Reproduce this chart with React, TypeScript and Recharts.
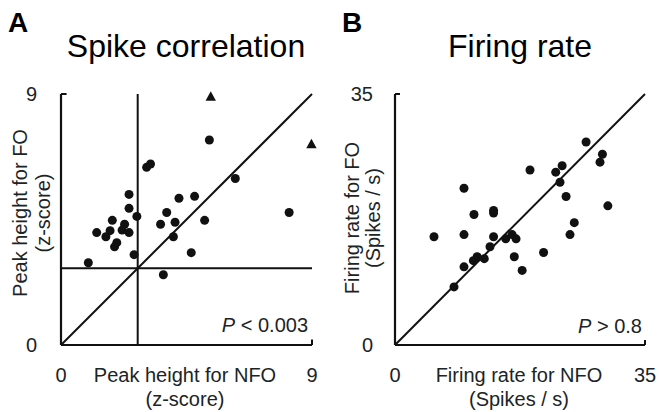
import React from "react";
import {
  ScatterChart,
  Scatter,
  XAxis,
  YAxis,
  ReferenceLine,
  Label,
} from "recharts";

// Panel A: spike correlation (z-score)
const spikeCircles = [
  { x: 5.32, y: 7.35 }, { x: 3.07, y: 6.37 }, { x: 3.21, y: 6.49 }, { x: 6.25, y: 5.97 },
  { x: 2.44, y: 5.4 }, { x: 4.23, y: 5.26 }, { x: 4.79, y: 5.33 }, { x: 2.44, y: 4.9 },
  { x: 8.18, y: 4.75 }, { x: 3.79, y: 4.75 }, { x: 2.72, y: 4.61 }, { x: 1.84, y: 4.47 },
  { x: 5.15, y: 4.47 }, { x: 3.57, y: 4.33 }, { x: 4.09, y: 4.4 }, { x: 2.28, y: 4.33 },
  { x: 1.28, y: 4.03 }, { x: 1.76, y: 4.1 }, { x: 2.19, y: 4.12 }, { x: 2.44, y: 4.03 },
  { x: 1.61, y: 3.88 }, { x: 4.03, y: 3.88 }, { x: 2.0, y: 3.67 }, { x: 1.92, y: 3.52 },
  { x: 4.67, y: 3.31 }, { x: 2.62, y: 3.24 }, { x: 0.98, y: 2.95 }, { x: 3.67, y: 2.52 },
];
const spikeTriangles = [
  { x: 5.37, y: 8.9 },
  { x: 8.98, y: 7.2 },
];
const spikeTicks = [0, 9];
const spikeThreshold = 2.75;

// Panel B: firing rate (spikes / s)
const rateCircles = [
  { x: 26.75, y: 28.3 }, { x: 29.04, y: 26.6 }, { x: 28.7, y: 25.5 }, { x: 23.4, y: 25.0 },
  { x: 22.5, y: 24.1 }, { x: 18.9, y: 24.4 }, { x: 23.1, y: 22.7 }, { x: 9.66, y: 21.85 },
  { x: 23.95, y: 20.7 }, { x: 29.8, y: 19.4 }, { x: 13.8, y: 18.75 }, { x: 13.8, y: 18.4 },
  { x: 11.06, y: 18.2 }, { x: 25.1, y: 17.06 }, { x: 5.46, y: 15.1 }, { x: 9.66, y: 15.4 },
  { x: 13.8, y: 15.1 }, { x: 15.5, y: 14.8 }, { x: 16.4, y: 15.4 }, { x: 16.95, y: 14.8 },
  { x: 24.5, y: 15.4 }, { x: 13.3, y: 13.7 }, { x: 16.7, y: 12.3 }, { x: 20.8, y: 12.9 },
  { x: 11.5, y: 12.3 }, { x: 12.5, y: 12.04 }, { x: 10.97, y: 11.76 }, { x: 9.66, y: 10.9 },
  { x: 17.8, y: 10.4 }, { x: 8.26, y: 8.1 },
];
const rateTicks = [0, 35];

const INK = "#111";
const TEXT = "#1c2426";
const FONT = "'Liberation Sans', Arial, Helvetica, sans-serif";

const Dot = (p: any) => <circle cx={p.cx} cy={p.cy} r={4.5} fill={INK} />;
const Tri = (p: any) => (
  <polygon
    points={`${p.cx},${p.cy - 5.5} ${p.cx - 5.2},${p.cy + 4} ${p.cx + 5.2},${p.cy + 4}`}
    fill={INK}
  />
);

const XLab = (lines: string[], cx: number) => (props: any) => {
  const vb = props.viewBox || {};
  const x = cx;
  return (
    <g>
      <text x={x} y={vb.y + 37} textAnchor="middle" fontSize={20} fill={TEXT} fontFamily={FONT}>
        {lines[0]}
      </text>
      <text x={x} y={vb.y + 61} textAnchor="middle" fontSize={20} fill={TEXT} fontFamily={FONT}>
        {lines[1]}
      </text>
    </g>
  );
};

const YLab = (lines: string[], x1: number, x2: number, cy: number) => () => (
  <g>
    <text
      x={x1}
      y={cy}
      dy="0.35em"
      textAnchor="middle"
      fontSize={20}
      fill={TEXT}
      fontFamily={FONT}
      transform={`rotate(-90, ${x1}, ${cy})`}
    >
      {lines[0]}
    </text>
    <text
      x={x2}
      y={cy}
      dy="0.35em"
      textAnchor="middle"
      fontSize={20}
      fill={TEXT}
      fontFamily={FONT}
      transform={`rotate(-90, ${x2}, ${cy})`}
    >
      {lines[1]}
    </text>
  </g>
);

const tickStyle = { fontSize: 20, fill: TEXT, fontFamily: FONT };
const axisLine = { stroke: INK, strokeWidth: 2.2 };

export default function App() {
  return (
    <div
      style={{
        position: "absolute",
        left: 0,
        top: 0,
        width: 659,
        height: 412,
        background: "#fff",
        overflow: "hidden",
      }}
    >
      <div style={{ position: "absolute", left: 0, top: 0 }}>
        <ScatterChart width={330} height={412} margin={{ top: 94, right: 18, bottom: 37, left: 21 }}>
          <XAxis
            type="number"
            dataKey="x"
            domain={[0, 9]}
            ticks={spikeTicks}
            tickLine={false}
            tickSize={0}
            tickMargin={23}
            height={30}
            axisLine={axisLine}
            tick={tickStyle}
            interval={0}
          >
            <Label content={XLab(["Peak height for NFO", "(z-score)"], 185)} />
          </XAxis>
          <YAxis
            type="number"
            dataKey="y"
            domain={[0, 9]}
            ticks={spikeTicks}
            tickLine={false}
            tickSize={0}
            tickMargin={24}
            width={40}
            axisLine={axisLine}
            tick={tickStyle}
            interval={0}
          >
            <Label content={YLab(["Peak height for FO", "(z-score)"], 20, 43, 213)} />
          </YAxis>
          <ReferenceLine x={spikeThreshold} stroke={INK} strokeWidth={2} />
          <ReferenceLine y={spikeThreshold} stroke={INK} strokeWidth={2} />
          <ReferenceLine segment={[{ x: 0, y: 0 }, { x: 9, y: 9 }]} stroke={INK} strokeWidth={2} />
          <ReferenceLine segment={[{ x: 0, y: 9 }, { x: 0.2, y: 9 }]} stroke={INK} strokeWidth={2} />
          <ReferenceLine segment={[{ x: 9, y: 0 }, { x: 9, y: 0.2 }]} stroke={INK} strokeWidth={2} />
          <Scatter data={spikeCircles} shape={Dot} isAnimationActive={false} />
          <Scatter data={spikeTriangles} shape={Tri} isAnimationActive={false} />
        </ScatterChart>
      </div>
      <div style={{ position: "absolute", left: 330, top: 0 }}>
        <ScatterChart width={329} height={412} margin={{ top: 94, right: 14, bottom: 37, left: 25 }}>
          <XAxis
            type="number"
            dataKey="x"
            domain={[0, 35]}
            ticks={rateTicks}
            tickLine={false}
            tickSize={0}
            tickMargin={23}
            height={30}
            axisLine={axisLine}
            tick={tickStyle}
            interval={0}
          >
            <Label content={XLab(["Firing rate for NFO", "(Spikes / s)"], 189)} />
          </XAxis>
          <YAxis
            type="number"
            dataKey="y"
            domain={[0, 35]}
            ticks={rateTicks}
            tickLine={false}
            tickSize={0}
            tickMargin={22}
            width={40}
            axisLine={axisLine}
            tick={tickStyle}
            interval={0}
          >
            <Label content={YLab(["Firing rate for FO", "(Spikes / s)"], 22, 43, 218)} />
          </YAxis>
          <ReferenceLine segment={[{ x: 0, y: 0 }, { x: 35, y: 35 }]} stroke={INK} strokeWidth={2} />
          <ReferenceLine segment={[{ x: 0, y: 35 }, { x: 0.7, y: 35 }]} stroke={INK} strokeWidth={2} />
          <ReferenceLine segment={[{ x: 35, y: 0 }, { x: 35, y: 0.7 }]} stroke={INK} strokeWidth={2} />
          <Scatter data={rateCircles} shape={Dot} isAnimationActive={false} />
        </ScatterChart>
      </div>
      <svg
        width={659}
        height={412}
        style={{ position: "absolute", left: 0, top: 0, pointerEvents: "none" }}
      >
        <g fontFamily={FONT} fill={TEXT}>
          <text x={8} y={32} fontSize={28} fontWeight="bold" fill="#000">A</text>
          <text x={342} y={32} fontSize={28} fontWeight="bold" fill="#000">B</text>
          <text x={186} y={57} fontSize={32} textAnchor="middle" fill="#000">Spike correlation</text>
          <text x={520} y={57} fontSize={32} textAnchor="middle" fill="#000">Firing rate</text>
          <text x={308} y={332} fontSize={20} textAnchor="end">
            <tspan fontStyle="italic">P</tspan> &lt; 0.003
          </text>
          <text x={642} y={333} fontSize={20} textAnchor="end">
            <tspan fontStyle="italic">P</tspan> &gt; 0.8
          </text>
        </g>
      </svg>
    </div>
  );
}
